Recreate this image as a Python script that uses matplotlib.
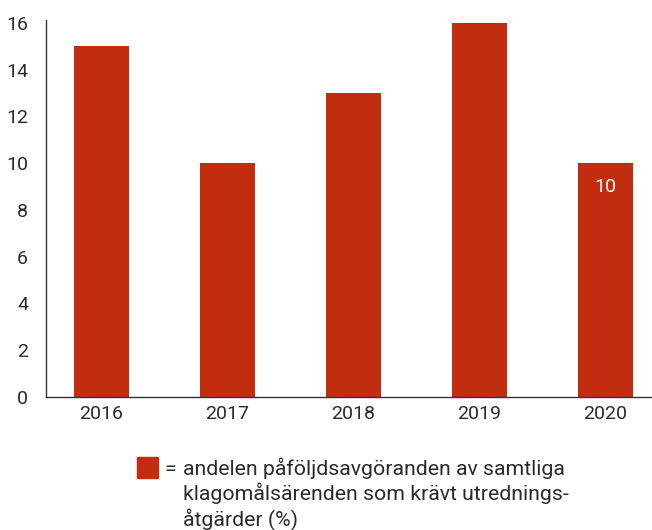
import matplotlib
matplotlib.use("Agg")
from matplotlib import pyplot as plt
from matplotlib.patches import Rectangle

# data
YEARS = ["2016", "2017", "2018", "2019", "2020"]
VALUES = [15, 10, 13, 16, 10]
LABELLED = {4: "10"}
Y_TICKS = [0, 2, 4, 6, 8, 10, 12, 14, 16]
LEGEND_LINES = ["andelen påföljdsavgöranden av samtliga",
                "klagomålsärenden som krävt utrednings-",
                "åtgärder (%)"]

BAR_COLOR = "#C22D10"
TEXT_COLOR = "#2b2b2b"

plt.rcParams["font.family"] = ["Roboto", "DejaVu Sans"]

fig = plt.figure(figsize=(6.52, 5.30), dpi=100)
ax = fig.add_axes([46 / 652, 133 / 530, 606 / 652, 377 / 530])

x = range(len(YEARS))
ax.bar(x, VALUES, width=0.44, color=BAR_COLOR)
for i, txt in LABELLED.items():
    ax.text(i, VALUES[i] - 1.0, txt, color="white", ha="center", va="center", fontsize=14)

ax.set_xlim(-0.44, 4.37)
ax.set_ylim(0, 16.12)
ax.set_yticks(Y_TICKS)
ax.set_xticks(list(x))
ax.set_xticklabels(YEARS)
ax.tick_params(axis="both", length=0, labelsize=14, colors=TEXT_COLOR)
ax.tick_params(axis="y", pad=13)
ax.tick_params(axis="x", pad=6)
for s in ["top", "right"]:
    ax.spines[s].set_visible(False)
for s in ["left", "bottom"]:
    ax.spines[s].set_color("#333333")
    ax.spines[s].set_linewidth(1.0)

# legend: swatch, "=", then wrapped description
fig.patches.append(Rectangle((137 / 652, 1 - 478 / 530), 21 / 652, 21 / 530,
                             transform=fig.transFigure, color=BAR_COLOR))
fig.text(164 / 652, 1 - 475 / 530, "=", ha="left", va="baseline",
         fontsize=15.3, color=TEXT_COLOR)
for k, line in enumerate(LEGEND_LINES):
    fig.text(183 / 652, 1 - (475 + 25.5 * k) / 530, line, ha="left", va="baseline",
             fontsize=15.3, color=TEXT_COLOR)

fig.savefig("out.png", dpi=100)
